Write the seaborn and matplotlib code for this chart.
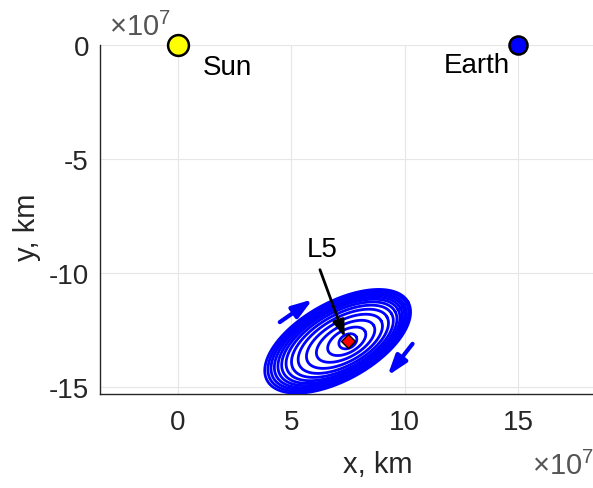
import numpy as np
import pandas as pd
import matplotlib
matplotlib.use("Agg")
import matplotlib.pyplot as plt
import seaborn as sns
from matplotlib.ticker import FuncFormatter

# Datos (km)
cuerpos = ["Sun", "Earth"]
cuerpos_x = [0.0, 1.5e8]
cuerpos_y = [0.0, 0.0]
cuerpos_color = ["#ffff00", "#0000ff"]
cuerpos_tam = [15, 13]

l5_x = 7.5e7
l5_y = -1.299e8

# Anillos de la orbita alrededor de L5 (semiejes y desplazamiento del centro, km)
anillo_a = [0.42e7, 0.92e7, 1.42e7, 1.85e7, 2.20e7, 2.48e7, 2.70e7, 2.88e7, 3.03e7, 3.17e7, 3.30e7, 3.43e7, 3.55e7]
anillo_b = [0.30e7, 0.50e7, 0.70e7, 0.89e7, 1.05e7, 1.18e7, 1.29e7, 1.38e7, 1.45e7, 1.52e7, 1.58e7, 1.64e7, 1.70e7]
anillo_dx = [0.0, -0.05e7, -0.10e7, -0.15e7, -0.20e7, -0.24e7, -0.28e7, -0.31e7, -0.34e7, -0.37e7, -0.40e7, -0.42e7, -0.45e7]
angulo_orbita = 29  # grados

xticks = [0, 5e7, 10e7, 15e7]
yticks = [-15e7, -10e7, -5e7, 0]

sns.set_style("white")
plt.rcParams['font.family'] = ['Liberation Sans', 'DejaVu Sans']
plt.rcParams['mathtext.default'] = 'regular'
gris = "#262626"

fig = plt.figure(figsize=(5.93, 4.89), dpi=100)
ax = fig.add_axes([100/593, 1 - 395/489, 493/593, 349/489])

# Orbitas
t = np.linspace(0, 2*np.pi, 400)
th = np.deg2rad(angulo_orbita)
for a, b, dx in zip(anillo_a, anillo_b, anillo_dx):
    ex = a*np.cos(t)
    ey = b*np.sin(t)
    ax.plot(l5_x + dx + ex*np.cos(th) - ey*np.sin(th),
            l5_y + ex*np.sin(th) + ey*np.cos(th),
            color="#0000ff", lw=2, zorder=3)

# Flechas de direccion
flecha = dict(arrowstyle="-|>,head_width=0.4,head_length=1.2", color="#0000ff", lw=3, shrinkA=0, shrinkB=0)
ax.annotate("", xy=(5.95e7, -11.15e7), xytext=(4.5e7, -12.15e7), arrowprops=flecha, zorder=4)
ax.annotate("", xy=(9.25e7, -14.5e7), xytext=(10.35e7, -13.1e7), arrowprops=flecha, zorder=4)

# L5
ax.plot([l5_x], [l5_y], marker="D", color="red", markeredgecolor="black", markersize=7.5, zorder=5)
ax.annotate("", xy=(7.36e7, -12.81e7), xytext=(6.27e7, -9.85e7),
            arrowprops=dict(arrowstyle="-|>,head_width=0.35,head_length=1.0", color="black", lw=2,
                            shrinkA=0, shrinkB=0), zorder=6)
ax.text(6.36e7, -8.95e7, "L5", fontsize=20, ha="center", va="center", color="black")

# Sol y Tierra
df = pd.DataFrame({"x": cuerpos_x, "y": cuerpos_y, "nombre": cuerpos})
for i, row in df.iterrows():
    ax.plot(row["x"], row["y"], marker="o", color=cuerpos_color[i], markeredgecolor="black",
            markeredgewidth=1.8, markersize=cuerpos_tam[i], zorder=6, clip_on=False)
ax.text(2.2e7, -0.96e7, "Sun", fontsize=20, ha="center", va="center", color="black")
ax.text(13.2e7, -0.88e7, "Earth", fontsize=20, ha="center", va="center", color="black")

ax.set_xlim(-3.42e7, 18.3e7)
ax.set_ylim(-15.3e7, 0)
ax.set_xticks(xticks)
ax.set_yticks(yticks)
fmt = FuncFormatter(lambda v, p: f"{v/1e7:g}")
ax.xaxis.set_major_formatter(fmt)
ax.yaxis.set_major_formatter(fmt)
ax.grid(True, color="#e6e6e6", lw=0.8)
ax.set_axisbelow(True)
for s in ["top", "right"]:
    ax.spines[s].set_visible(False)
for s in ["left", "bottom"]:
    ax.spines[s].set_color(gris)
    ax.spines[s].set_linewidth(1)
ax.tick_params(direction="in", length=4, color=gris, labelcolor=gris, labelsize=20, width=1)
ax.tick_params(axis="x", pad=11)
ax.tick_params(axis="y", pad=8)

ax.set_xlabel("x, km", fontsize=21, color=gris)
ax.set_ylabel("y, km", fontsize=21, color=gris)
ax.xaxis.set_label_coords(0.564, -0.16)
ax.yaxis.set_label_coords(-0.119, 0.481)

fig.text(140/593, 1 - 27/489, r"×10$^{7}$", fontsize=21, color="#555555", ha="center", va="center")
fig.text(563/593, 1 - 466/489, r"×10$^{7}$", fontsize=21, color="#555555", ha="center", va="center")

fig.savefig("out.png", dpi=100)
